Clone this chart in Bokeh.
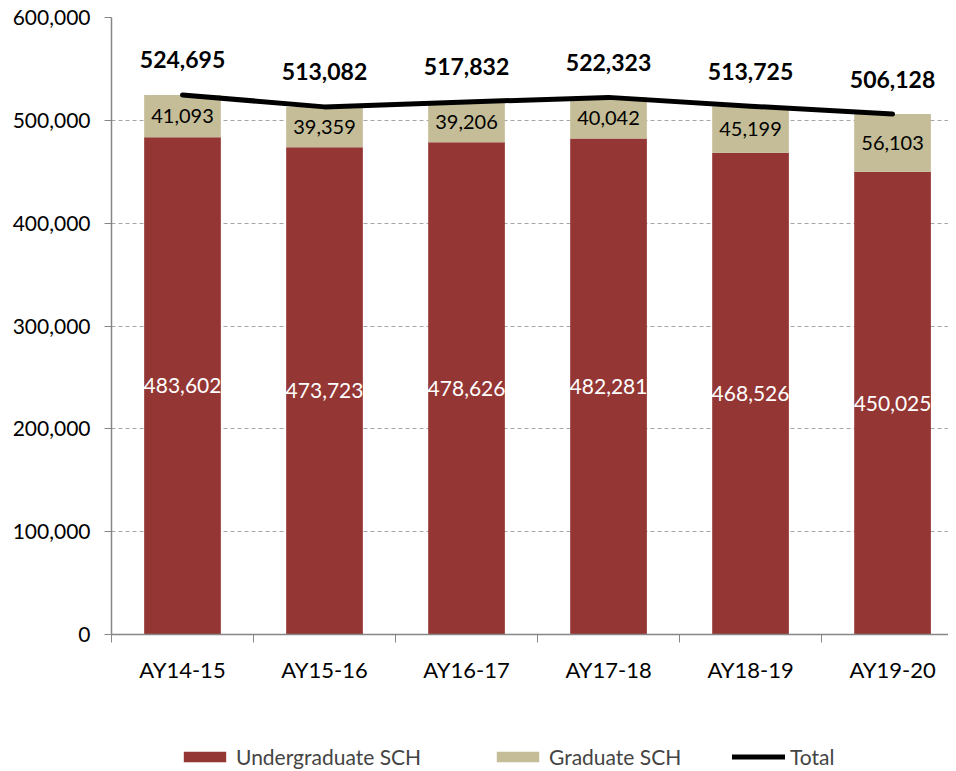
from bokeh.plotting import figure
from bokeh.layouts import column
from bokeh.models import (ColumnDataSource, Range1d, FixedTicker, NumeralTickFormatter,
                          Legend, LegendItem)
from bokeh.core.properties import value
from bokeh.embed import file_html
from bokeh.resources import INLINE

categories = ["AY14-15", "AY15-16", "AY16-17", "AY17-18", "AY18-19", "AY19-20"]
undergrad = [483602, 473723, 478626, 482281, 468526, 450025]
graduate = [41093, 39359, 39206, 40042, 45199, 56103]
total = [524695, 513082, 517832, 522323, 513725, 506128]
y_ticks = [0, 100000, 200000, 300000, 400000, 500000, 600000]

FONT = "Lato"
UG_COLOR = "#943634"
GR_COLOR = "#C4BD97"
AXIS_COLOR = "#868686"

xs = list(range(len(categories)))
src = ColumnDataSource(dict(
    x=xs,
    ug=undergrad,
    gr=graduate,
    total=total,
    ug_mid=[u / 2 for u in undergrad],
    gr_mid=[u + g / 2 for u, g in zip(undergrad, graduate)],
    ug_lbl=[f"{v:,}" for v in undergrad],
    gr_lbl=[f"{v:,}" for v in graduate],
    tot_lbl=[f"{v:,}" for v in total],
))

p = figure(frame_width=837, frame_height=617,
           x_range=Range1d(-0.5, 5.394), y_range=Range1d(0, 600000),
           output_backend="svg", toolbar_location=None,
           min_border_left=111, min_border_right=0, min_border_top=17,
           min_border_bottom=0)
p.outline_line_color = None

p.vbar_stack(["ug", "gr"], x="x", width=0.54, source=src,
             fill_color=[UG_COLOR, GR_COLOR], line_color=None)
p.line("x", "total", source=src, line_color="black", line_width=5,
       line_cap="round", line_join="round")

p.text(x="x", y="ug_mid", text="ug_lbl", source=src, text_font=value(FONT),
       text_font_size="21px", text_color="white", text_align="center",
       text_baseline="middle")
p.text(x="x", y="gr_mid", text="gr_lbl", source=src, text_font=value(FONT),
       text_font_size="20px", text_color="black", text_align="center",
       text_baseline="middle")
p.text(x="x", y="total", text="tot_lbl", source=src, text_font=value(FONT),
       text_font_size="23px", text_font_style="bold", text_color="black",
       text_align="center", text_baseline="middle", y_offset=-35)

# x axis
p.xaxis.ticker = FixedTicker(ticks=xs, minor_ticks=[i - 0.5 for i in range(len(xs) + 1)])
p.xaxis.major_label_overrides = {i: c for i, c in zip(xs, categories)}
p.xaxis.major_tick_line_color = None
p.xaxis.major_tick_out = 0
p.xaxis.major_tick_in = 0
p.xaxis.minor_tick_line_color = AXIS_COLOR
p.xaxis.minor_tick_out = 8
p.xaxis.minor_tick_in = 0
p.xaxis.axis_line_color = AXIS_COLOR
p.xaxis.axis_line_width = 1.5
p.xaxis.major_label_text_font = FONT
p.xaxis.major_label_text_font_size = "22px"
p.xaxis.major_label_text_color = "black"
p.xaxis.major_label_standoff = 13

# y axis
p.yaxis.ticker = FixedTicker(ticks=y_ticks)
p.yaxis.formatter = NumeralTickFormatter(format="0,0")
p.yaxis.major_tick_out = 7
p.yaxis.major_tick_in = 0
p.yaxis.minor_tick_line_color = None
p.yaxis.major_tick_line_color = AXIS_COLOR
p.yaxis.axis_line_color = AXIS_COLOR
p.yaxis.axis_line_width = 1.5
p.yaxis.major_label_text_font = FONT
p.yaxis.major_label_text_font_size = "21px"
p.yaxis.major_label_text_color = "black"
p.yaxis.major_label_standoff = 14

p.xgrid.visible = False
p.ygrid.grid_line_color = "#A6A6A6"
p.ygrid.grid_line_dash = "4 3"
p.ygrid.grid_line_width = 1

# legend strip: a second figure whose series renderers lie far outside its view
lf = figure(width=948, height=86, x_range=Range1d(1000, 1001),
            y_range=Range1d(1e7, 1e7 + 1),
            output_backend="svg", toolbar_location=None,
            min_border_left=0, min_border_right=0, min_border_top=0,
            min_border_bottom=0)
lf.axis.visible = False
lf.grid.visible = False
lf.outline_line_color = None
lbars = lf.vbar_stack(["ug", "gr"], x="x", width=0.54, source=src,
                      fill_color=[UG_COLOR, GR_COLOR], line_color=None)
lline = lf.line("x", "total", source=src, line_color="black", line_width=5,
                line_cap="round")

SHIFT = 112  # the column aligns this strip's frame with the chart's frame
legend_items = [
    ("Undergraduate SCH", lbars[0], 179),
    ("Graduate SCH", lbars[1], 492),
    ("Total", lline, 733),
]
for label, rend, lx in legend_items:
    lg = Legend(items=[LegendItem(label=label, renderers=[rend])],
                location=(lx - SHIFT, 2), orientation="horizontal",
                glyph_width=53, glyph_height=13, label_text_font=FONT,
                label_text_font_size="21px", label_standoff=5, spacing=0,
                border_line_color=None, background_fill_alpha=0,
                margin=0, padding=0)
    lf.add_layout(lg, "center")

layout = column(p, lf, spacing=0)
open("out.html", "w").write(file_html(layout, INLINE))
